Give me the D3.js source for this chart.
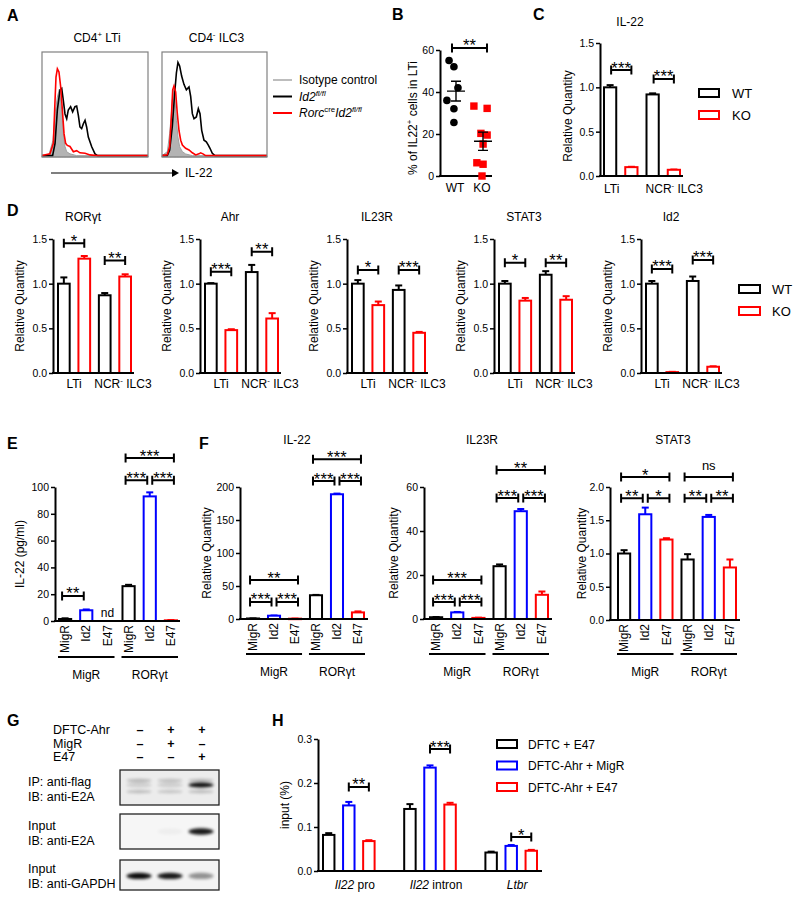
<!DOCTYPE html>
<html>
<head>
<meta charset="utf-8">
<script src="https://cdn.jsdelivr.net/npm/d3@7"></script>
<style>
body { margin: 0; background: #fff; }
text { fill: #000; }
</style>
</head>
<body>
<svg width="800" height="900"></svg>
<script>
// ---- data ----
// A: flow histograms, x = IL-22 (log units 0-100), y = % of max
var ltiIso = [[0,1.3],[6.3,1.3],[10.4,16],[12.3,41],[14.5,57],[16.3,64.4],[18.6,45],[20.1,22.5],[21.7,10],[23.3,5],[26.4,3],[32.7,1.3],[100,1.3]];
var ltiWT = [[0,1.3],[10,1.3],[12.3,13],[14.5,45],[17,64],[18.6,65.4],[20.1,54],[21.7,41],[23.3,36.5],[24.8,44.8],[27,48],[28.9,43],[31.1,48],[32.7,48.6],[34.3,39.7],[35.8,28.6],[37.4,27],[39,31.7],[40.6,35],[42.1,28.6],[43.7,19],[46.9,9.8],[50,2.9],[52.5,1.3],[100,1.3]];
var ltiKO = [[0,1.5],[7.5,3],[10.7,13],[12.3,54],[13.2,76],[14.5,84],[16,81],[17.6,67],[19.2,45],[20.8,22],[22.3,13],[23.9,11],[26.4,10],[29.6,5],[32.7,6],[35.8,4],[40.6,3.5],[45.3,2],[51.6,1.3],[100,1.3]];
var ilc3Iso = [[0,1.3],[5.1,5.1],[7.3,22.5],[8.9,41.3],[9.8,54],[11.1,64.4],[12.4,54],[13.7,34.9],[15.2,19],[16.8,9.8],[19.4,5.1],[22.5,2.9],[28.9,1.3],[100,1.3]];
var ilc3WT = [[0,1.3],[5,1.3],[7.3,6.7],[9.8,29],[12.1,60.9],[13.7,80],[15.2,90],[16.8,86.7],[18.7,77.1],[20.9,69.2],[23.2,64],[25.7,66.7],[27.3,57.8],[28.9,41.3],[30.5,36.5],[32.7,38.1],[34.6,46],[36.2,41.3],[37.8,25.4],[40,16],[42.2,14.4],[44.1,11.4],[45.7,8.3],[47.9,3.5],[50.5,1.3],[100,1.3]];
var ilc3KO = [[0,1.3],[5,2],[7.3,10],[8.9,38],[10.2,64],[11.4,67.6],[13,62],[14.6,41],[16.2,25],[17.8,16],[19.4,11.4],[22.5,8.3],[25.7,6.7],[28.9,4],[32.1,2],[35.2,3],[36.8,4],[39,3],[41.6,1.3],[100,1.3]];

// B: % IL22+ in LTi
var bGroups = ["WT", "KO"];
var bWT = [55, 52, 42, 36, 32, 25.5];
var bKO = [33.3, 32.2, 20.3, 19.5, 15.2, 6.3, 5.6, 0];
var bWTjit = [-0.22, -0.04, 0.11, -0.3, -0.04, -0.04];
var bKOjit = [-0.3, 0.19, -0.04, 0.19, 0.04, -0.19, 0.04, 0];

// C: IL-22 qPCR
var cellTypes = ["LTi", "NCR"];
var cWT = [1.0, 0.92], cWTerr = [0.025, 0.012];
var cKO = [0.10, 0.07], cKOerr = [0.004, 0.003];
var cSig = ["***", "***"], cSigY = [1.195, 1.094];

// D: five genes
var dGenes = ["RORγt", "Ahr", "IL23R", "STAT3", "Id2"];
var dWT = [[1.0, 0.87], [1.0, 1.13], [1.0, 0.93], [1.0, 1.1], [1.0, 1.03]];
var dWTerr = [[0.07, 0.025], [0.006, 0.08], [0.04, 0.05], [0.03, 0.04], [0.03, 0.05]];
var dKO = [[1.28, 1.08], [0.48, 0.61], [0.76, 0.45], [0.81, 0.82], [0.01, 0.07]];
var dKOerr = [[0.03, 0.025], [0.01, 0.06], [0.04, 0.01], [0.03, 0.04], [0.003, 0.005]];
var dSig = [["*", "**"], ["***", "**"], ["*", "***"], ["*", "**"], ["***", "***"]];
var dSigY = [[1.452, 1.258], [1.134, 1.358], [1.153, 1.153], [1.235, 1.235], [1.165, 1.265]];

// E / F: retroviral transduction
var vectors = ["MigR", "Id2", "E47"];
var backbones = ["MigR", "RORγt"];
var eIL22 = [[1.5, 8, null], [26, 93, 0.5]];
var eIL22err = [[0.5, 0.6, 0], [1, 3, 0.2]];
var eSig = [[0, 0, 1, 18.7, "**"], [1, 0, 2, 121.6, "***"], [1, 0, 1, 105, "***"], [1, 1, 2, 105, "***"]];
var fIL22 = [[0.8, 5, 0.5], [36, 189, 10]];
var fIL22err = [[0.1, 0.3, 0.1], [0.5, 1, 1.5]];
var fIL23R = [[0.8, 3, 0.5], [24, 49, 11]];
var fIL23Rerr = [[0.1, 0.2, 0.1], [0.8, 1, 1.5]];
var fSTAT3 = [[1.0, 1.59, 1.21], [0.91, 1.55, 0.79]];
var fSTAT3err = [[0.05, 0.1, 0.02], [0.08, 0.03, 0.12]];
var fIL22sig = [[0, 0, 2, 59, "**"], [0, 0, 1, 25.8, "***"], [0, 1, 2, 25.8, "***"], [1, 0, 2, 242, "***"], [1, 0, 1, 209, "***"], [1, 1, 2, 209, "***"]];
var fIL23Rsig = [[0, 0, 2, 17.7, "***"], [0, 0, 1, 7.7, "***"], [0, 1, 2, 7.7, "***"], [1, 0, 2, 67.7, "**"], [1, 0, 1, 55, "***"], [1, 1, 2, 55, "***"]];
var fSTAT3sig = [[0, 0, 2, 2.15, "*"], [0, 0, 1, 1.83, "**"], [0, 1, 2, 1.83, "*"], [1, 0, 2, 2.15, "ns"], [1, 0, 1, 1.83, "**"], [1, 1, 2, 1.83, "**"]];

// G: co-IP blot
var gLanes = [0, 1, 2];
var gRows = ["DFTC-Ahr", "MigR", "E47"];
var gSigns = [["–", "+", "+"], ["–", "+", "–"], ["–", "–", "+"]];
var blotIP = [0.12, 0.12, 0.95];
var blotIPbg = [0.3, 0.25, 0.3];
var blotE2A = [0, 0.03, 0.9];
var blotGAPDH = [0.95, 0.9, 0.4];

// H: ChIP
var hLoci = ["Il22 pro", "Il22 intron", "Ltbr"];
var hConds = ["DFTC + E47", "DFTC-Ahr + MigR", "DFTC-Ahr + E47"];
var hVals = [[0.082, 0.149, 0.068], [0.141, 0.235, 0.151], [0.042, 0.057, 0.046]];
var hErr = [[0.004, 0.008, 0.002], [0.011, 0.005, 0.004], [0.002, 0.002, 0.002]];
var hSig = [[0, 1, 2, 0.191, "**"], [1, 1, 2, 0.277, "***"], [2, 1, 2, 0.077, "*"]];

// ---- drawing ----
var FONT = "'Liberation Sans', Arial, Helvetica, sans-serif";
var RED = "#ff0000", BLUE = "#0000ff", BLACK = "#000";
var svg = d3.select("svg").attr("font-family", FONT);

function label(x, y, s, size, anchor, weight) {
	return svg.append("text").attr("x", x).attr("y", y)
		.attr("font-size", size).attr("text-anchor", anchor || "middle")
		.attr("font-weight", weight || "normal").text(s);
}

// parts: [text, style] with style containing "i" (italic) and/or "^" (superscript)
function richText(x, y, parts, size, anchor) {
	var t = svg.append("text").attr("x", x).attr("y", y)
		.attr("font-size", size).attr("text-anchor", anchor || "start");
	var up = false;
	parts.forEach(function(p) {
		var st = p[1] || "", sup = st.indexOf("^") >= 0;
		var sp = t.append("tspan").text(p[0]);
		if (st.indexOf("i") >= 0) sp.attr("font-style", "italic");
		if (sup) sp.attr("font-size", size * 0.65);
		if (sup !== up) sp.attr("dy", sup ? -size * 0.4 : size * 0.4);
		up = sup;
	});
	return t;
}

function vTitle(x, yc, parts, size) {
	richText(0, 0, parts, size, "middle")
		.attr("transform", "translate(" + (x + size * 0.35) + "," + yc + ") rotate(-90)");
}

function bracket(x1, x2, yy, s) {
	svg.append("path")
		.attr("d", "M" + x1 + "," + (yy - 4.5) + "V" + (yy + 4.5) + "M" + x1 + "," + yy + "H" + x2 +
			"M" + x2 + "," + (yy - 4.5) + "V" + (yy + 4.5))
		.attr("stroke", BLACK).attr("stroke-width", 2).attr("fill", "none");
	if (s === "ns") label((x1 + x2) / 2, yy - 7, s, 13);
	else label((x1 + x2) / 2, yy + 3.5, s, 16.5).attr("letter-spacing", 0.2);
}

function leftAxis(x0, y, ticks, fmt) {
	var ax = svg.append("g").attr("transform", "translate(" + x0 + ",0)")
		.call(d3.axisLeft(y).tickValues(ticks).tickFormat(fmt).tickSize(4).tickSizeOuter(0));
	ax.attr("font-family", FONT).attr("font-size", 10.5);
	ax.select(".domain").attr("stroke-width", 2);
	ax.selectAll(".tick line").attr("stroke-width", 1.5);
	ax.selectAll(".tick text").attr("fill", "#000").attr("x", -6);
	return ax;
}

// generic open-bar panel
function barPanel(o) {
	var y = d3.scaleLinear().domain([0, o.max]).range([o.yB, o.yT]);
	var x = d3.scaleBand().domain(d3.range(o.vals.length)).range([o.bL, o.bR]).paddingInner(0.33);
	var bw = x.bandwidth();
	o.vals.forEach(function(v, i) {
		if (v == null) return;
		var c = o.cols[i], cx = x(i) + bw / 2, e = o.errs[i];
		if (e > 0) {
			svg.append("line").attr("x1", cx).attr("x2", cx).attr("y1", y(v)).attr("y2", y(v + e))
				.attr("stroke", c).attr("stroke-width", 2);
			svg.append("line").attr("x1", cx - 3.5).attr("x2", cx + 3.5).attr("y1", y(v + e)).attr("y2", y(v + e))
				.attr("stroke", c).attr("stroke-width", 2);
		}
		svg.append("rect").attr("x", x(i) + 1).attr("width", bw - 2)
			.attr("y", y(v)).attr("height", Math.max(0.5, y(0) - y(v)))
			.attr("fill", "#fff").attr("stroke", c).attr("stroke-width", 2);
	});
	leftAxis(o.ax, y, o.ticks, o.fmt);
	svg.append("line").attr("x1", o.ax - 1).attr("x2", o.axR).attr("y1", y(0)).attr("y2", y(0))
		.attr("stroke", BLACK).attr("stroke-width", 2);
	return { x: x, y: y, cx: function(i) { return x(i) + bw / 2; }, bw: bw };
}

// ----- A -----
label(7, 21, "A", 16, "start", "bold");
function histo(x0, w, title, iso, wt, ko) {
	var hx = d3.scaleLinear().domain([0, 100]).range([x0, x0 + w]);
	var hy = d3.scaleLinear().domain([0, 100]).range([157, 52]);
	svg.append("path").datum(iso)
		.attr("d", d3.area().x(function(d) { return hx(d[0]); }).y0(hy(0)).y1(function(d) { return hy(d[1]); }))
		.attr("fill", "#b3b3b3").attr("stroke", "#a0a0a0").attr("stroke-width", 1);
	var line = d3.line().x(function(d) { return hx(d[0]); }).y(function(d) { return hy(d[1]); });
	svg.append("path").datum(wt).attr("d", line).attr("fill", "none").attr("stroke", BLACK).attr("stroke-width", 1.6);
	svg.append("path").datum(ko).attr("d", line).attr("fill", "none").attr("stroke", RED).attr("stroke-width", 1.6);
	svg.append("rect").attr("x", x0).attr("y", 52).attr("width", w).attr("height", 105)
		.attr("fill", "none").attr("stroke", "#808080").attr("stroke-width", 1.2);
	richText(x0 + w / 2 + 2, 42, title, 12, "middle");
}
histo(42, 106, [["CD4"], ["+", "^"], [" LTi"]], ltiIso, ltiWT, ltiKO);
histo(162, 105, [["CD4"], ["-", "^"], [" ILC3"]], ilc3Iso, ilc3WT, ilc3KO);
svg.append("line").attr("x1", 51).attr("x2", 173).attr("y1", 173).attr("y2", 173).attr("stroke", BLACK).attr("stroke-width", 1.2);
svg.append("path").attr("d", "M172,169L179,173L172,177Z").attr("fill", BLACK);
label(185, 177, "IL-22", 12, "start");
var aLeg = [["#bdbdbd", [["Isotype control"]]], [BLACK, [["Id2", "i"], ["fl/fl", "i^"]]], [RED, [["Rorc", "i"], ["cre", "^"], ["Id2", "i"], ["fl/fl", "i^"]]]];
aLeg.forEach(function(d, i) {
	var yy = 80 + i * 16.5;
	svg.append("line").attr("x1", 273).attr("x2", 292).attr("y1", yy).attr("y2", yy).attr("stroke", d[0]).attr("stroke-width", 2);
	richText(299, yy + 4, d[1], 12, "start");
});

// ----- B -----
label(392, 20, "B", 16, "start", "bold");
(function() {
	var y = d3.scaleLinear().domain([0, 60]).range([176, 50]);
	var x = d3.scalePoint().domain(bGroups).range([455, 482]);
	leftAxis(440, y, [0, 20, 40, 60], d3.format("d"));
	svg.append("line").attr("x1", 439).attr("x2", 492).attr("y1", 176).attr("y2", 176).attr("stroke", BLACK).attr("stroke-width", 2);
	bGroups.forEach(function(gname) { label(x(gname), 192, gname, 12); });
	vTitle(413, 118, [["% of IL22"], ["+", "^"], [" cells in LTi"]], 12);
	svg.selectAll("circle.wt").data(bWT).join("circle")
		.attr("cx", function(d, i) { return x("WT") + bWTjit[i] * 27; })
		.attr("cy", function(d) { return y(d); }).attr("r", 3.8).attr("fill", BLACK);
	svg.selectAll("rect.ko").data(bKO).join("rect")
		.attr("x", function(d, i) { return x("KO") + bKOjit[i] * 27 - 3.7; })
		.attr("y", function(d) { return y(d) - 3.7; }).attr("width", 7.4).attr("height", 7.4).attr("fill", RED);
	[["WT", bWT], ["KO", bKO]].forEach(function(s) {
		var m = d3.mean(s[1]), se = d3.deviation(s[1]) / Math.sqrt(s[1].length), cx = x(s[0]) + 1;
		svg.append("path")
			.attr("d", "M" + (cx - 9) + "," + y(m) + "H" + (cx + 9) +
				"M" + cx + "," + y(m - se) + "V" + y(m + se) +
				"M" + (cx - 5) + "," + y(m - se) + "H" + (cx + 5) +
				"M" + (cx - 5) + "," + y(m + se) + "H" + (cx + 5))
			.attr("stroke", BLACK).attr("stroke-width", 1.4).attr("fill", "none");
	});
	bracket(x("WT") - 3, x("KO") + 5, y(61), "**");
})();

// ----- C -----
label(533, 20, "C", 16, "start", "bold");
label(630, 26, "IL-22", 12);
(function() {
	var p = barPanel({ ax: 600, axR: 683, bL: 603, bR: 681, yB: 176, yT: 43, max: 1.5,
		ticks: [0, 0.5, 1, 1.5], fmt: d3.format(".1f"),
		vals: [cWT[0], cKO[0], cWT[1], cKO[1]], errs: [cWTerr[0], cKOerr[0], cWTerr[1], cKOerr[1]],
		cols: [BLACK, RED, BLACK, RED] });
	vTitle(568, 116, [["Relative Quantity"]], 12);
	label((p.cx(0) + p.cx(1)) / 2 - 9, 193, "LTi", 12);
	richText((p.cx(2) + p.cx(3)) / 2 + 11, 193, [["NCR"], ["-", "^"], [" ILC3"]], 12, "middle");
	cellTypes.forEach(function(c, k) {
		bracket(p.cx(2 * k) + 1, p.cx(2 * k + 1), p.y(cSigY[k]), cSig[k]);
	});
})();
[["WT", BLACK], ["KO", RED]].forEach(function(d, i) {
	var yy = 93 + i * 22;
	svg.append("rect").attr("x", 699).attr("y", yy - 4).attr("width", 20).attr("height", 8)
		.attr("fill", "#fff").attr("stroke", d[1]).attr("stroke-width", 2);
	label(732, yy + 4.5, d[0], 13, "start");
});

// ----- D -----
label(7, 216, "D", 16, "start", "bold");
dGenes.forEach(function(gn, i) {
	var ax = 53 + i * 147;
	var p = barPanel({ ax: ax, axR: ax + 81, bL: ax + 4, bR: ax + 79, yB: 373, yT: 239, max: 1.5,
		ticks: [0, 0.5, 1, 1.5], fmt: d3.format(".1f"),
		vals: [dWT[i][0], dKO[i][0], dWT[i][1], dKO[i][1]],
		errs: [dWTerr[i][0], dKOerr[i][0], dWTerr[i][1], dKOerr[i][1]],
		cols: [BLACK, RED, BLACK, RED] });
	label(ax + 30, 221, gn, 12);
	vTitle(ax - 33, 306, [["Relative Quantity"]], 12);
	label((p.cx(0) + p.cx(1)) / 2, 388, "LTi", 12);
	richText((p.cx(2) + p.cx(3)) / 2 + 8, 388, [["NCR"], ["-", "^"], [" ILC3"]], 12, "middle");
	cellTypes.forEach(function(c, k) {
		bracket(p.cx(2 * k), p.cx(2 * k + 1), p.y(dSigY[i][k]), dSig[i][k]);
	});
});
[["WT", BLACK], ["KO", RED]].forEach(function(d, i) {
	var yy = 289 + i * 22;
	svg.append("rect").attr("x", 739).attr("y", yy - 4).attr("width", 21).attr("height", 8)
		.attr("fill", "#fff").attr("stroke", d[1]).attr("stroke-width", 2);
	label(772, yy + 4.5, d[0], 13, "start");
});

// ----- E / F -----
function txPanel(o, vals, errs, sigs) {
	var p = barPanel({ ax: o.ax, axR: o.axR, bL: o.bL, bR: o.bR, yB: o.yB, yT: o.yT, max: o.max,
		ticks: o.ticks, fmt: o.fmt, vals: d3.merge(vals), errs: d3.merge(errs),
		cols: [BLACK, BLUE, RED, BLACK, BLUE, RED] });
	d3.range(6).forEach(function(i) {
		label(0, 0, vectors[i % 3], 12, "end")
			.attr("transform", "translate(" + (p.cx(i) + 4.2) + "," + (o.yB + 4) + ") rotate(-90)");
	});
	backbones.forEach(function(b, k) {
		var xa = p.x(3 * k), xb = p.x(3 * k + 2) + p.bw;
		svg.append("line").attr("x1", xa).attr("x2", xb).attr("y1", o.gy).attr("y2", o.gy)
			.attr("stroke", BLACK).attr("stroke-width", 2);
		label((xa + xb) / 2, o.gy + 22, b, 12);
	});
	if (o.title) label(o.tx, 444, o.title, 12);
	vTitle(o.ax - o.yto, (o.yB + o.yT) / 2, o.ytitle, 12);
	sigs.forEach(function(s) {
		var a = 3 * s[0] + s[1], b = 3 * s[0] + s[2];
		var x1 = p.cx(a) + (s[1] === 1 ? 2.5 : -3), x2 = p.cx(b) + (s[2] === 1 ? -2.5 : 3);
		bracket(x1, x2, p.y(s[3]), s[4]);
	});
	return p;
}
label(7, 449, "E", 16, "start", "bold");
var pE = txPanel({ ax: 55, axR: 180, bL: 58, bR: 178, yB: 621, yT: 487, max: 100,
	ticks: [0, 20, 40, 60, 80, 100], fmt: d3.format("d"), gy: 657, yto: 35,
	ytitle: [["IL-22 (pg/ml)"]] }, eIL22, eIL22err, eSig);
label(pE.cx(2), 617, "nd", 12);

label(199, 449, "F", 16, "start", "bold");
txPanel({ ax: 240, axR: 368, bL: 246, bR: 365, yB: 619, yT: 487, max: 200,
	ticks: [0, 50, 100, 150, 200], fmt: d3.format("d"), gy: 654, yto: 33,
	title: "IL-22", tx: 297, ytitle: [["Relative Quantity"]] }, fIL22, fIL22err, fIL22sig);
txPanel({ ax: 424, axR: 552, bL: 429, bR: 549, yB: 619, yT: 487, max: 60,
	ticks: [0, 20, 40, 60], fmt: d3.format("d"), gy: 654, yto: 30,
	title: "IL23R", tx: 482, ytitle: [["Relative Quantity"]] }, fIL23R, fIL23Rerr, fIL23Rsig);
txPanel({ ax: 610, axR: 740, bL: 617, bR: 737, yB: 620, yT: 487, max: 2,
	ticks: [0, 0.5, 1, 1.5, 2], fmt: d3.format(".1f"), gy: 654, yto: 28,
	title: "STAT3", tx: 673, ytitle: [["Relative Quantity"]] }, fSTAT3, fSTAT3err, fSTAT3sig);

// ----- G -----
label(7, 726, "G", 16, "start", "bold");
var defs = svg.append("defs");
defs.append("filter").attr("id", "blur").attr("x", "-50%").attr("y", "-100%").attr("width", "200%").attr("height", "300%")
	.append("feGaussianBlur").attr("stdDeviation", 1.6);
var lane = d3.scalePoint().domain(gLanes).range([139, 201]);
gRows.forEach(function(r, i) {
	var yy = 734 + i * 13.5;
	label(53, yy, r, 12.5, "start");
	gLanes.forEach(function(l) { label(lane(l) + 1, yy, gSigns[i][l], 12.5, "middle", "bold"); });
});
var blots = [
	{ y: 770, h: 35, fill: "#ececec", bands: [[blotIPbg, 0.3, 0.55], [blotIPbg, 0.62, 0.5], [blotIP, 0.43, 0.8]], text: [["IP: anti-flag"], ["IB: anti-E2A"]] },
	{ y: 814, h: 35, fill: "#f6f6f6", bands: [[blotE2A, 0.5, 1]], text: [["Input"], ["IB: anti-E2A"]] },
	{ y: 860, h: 30, fill: "#f3f3f3", bands: [[blotGAPDH, 0.53, 1]], text: [["Input"], ["IB: anti-GAPDH"]] }
];
blots.forEach(function(b) {
	svg.append("rect").attr("x", 120).attr("y", b.y).attr("width", 99).attr("height", b.h)
		.attr("fill", b.fill).attr("stroke", "#222").attr("stroke-width", 1.3);
	b.bands.forEach(function(bd) {
		gLanes.forEach(function(l) {
			var v = bd[0][l];
			if (!v) return;
			svg.append("ellipse").attr("cx", lane(l)).attr("cy", b.y + b.h * bd[1])
				.attr("rx", 12.5).attr("ry", 3.2 * bd[2])
				.attr("fill", "#000").attr("opacity", v * Math.min(1, bd[2] + 0.2)).attr("filter", "url(#blur)");
		});
	});
	label(28, b.y + b.h / 2 - 2, b.text[0][0], 12.5, "start");
	label(28, b.y + b.h / 2 + 13, b.text[1][0], 12.5, "start");
});

// ----- H -----
label(272, 726, "H", 16, "start", "bold");
(function() {
	var y = d3.scaleLinear().domain([0, 0.3]).range([871, 739]);
	var outer = d3.scaleBand().domain(d3.range(3)).range([322, 538]).paddingInner(0.34);
	var inner = d3.scaleBand().domain(d3.range(3)).range([0, outer.bandwidth()]).paddingInner(0.33);
	var bw = inner.bandwidth(), cols = [BLACK, BLUE, RED];
	function cx(l, c) { return outer(l) + inner(c) + bw / 2; }
	hVals.forEach(function(row, l) {
		row.forEach(function(v, c) {
			var e = hErr[l][c], xx = cx(l, c);
			svg.append("line").attr("x1", xx).attr("x2", xx).attr("y1", y(v)).attr("y2", y(v + e)).attr("stroke", cols[c]).attr("stroke-width", 2);
			svg.append("line").attr("x1", xx - 3.5).attr("x2", xx + 3.5).attr("y1", y(v + e)).attr("y2", y(v + e)).attr("stroke", cols[c]).attr("stroke-width", 2);
			svg.append("rect").attr("x", outer(l) + inner(c) + 1).attr("width", bw - 2)
				.attr("y", y(v)).attr("height", y(0) - y(v))
				.attr("fill", "#fff").attr("stroke", cols[c]).attr("stroke-width", 2);
		});
	});
	leftAxis(318, y, [0, 0.1, 0.2, 0.3], d3.format(".1f"));
	svg.append("line").attr("x1", 317).attr("x2", 542).attr("y1", 871).attr("y2", 871).attr("stroke", BLACK).attr("stroke-width", 2);
	vTitle(285, 805, [["input (%)"]], 12);
	var locParts = [[["Il22", "i"], [" pro"]], [["Il22", "i"], [" intron"]], [["Ltbr", "i"]]];
	locParts.forEach(function(pp, l) { richText(outer(l) + outer.bandwidth() / 2 + 6, 889, pp, 12, "middle"); });
	hSig.forEach(function(s) { bracket(cx(s[0], s[1]), cx(s[0], s[2]), y(s[3]), s[4]); });
	hConds.forEach(function(c, i) {
		var yy = 744 + i * 21.5;
		svg.append("rect").attr("x", 497).attr("y", yy - 4).attr("width", 20).attr("height", 8)
			.attr("fill", "#fff").attr("stroke", cols[i]).attr("stroke-width", 2);
		label(528, yy + 4.5, c, 12, "start");
	});
})();
</script>
</body>
</html>
